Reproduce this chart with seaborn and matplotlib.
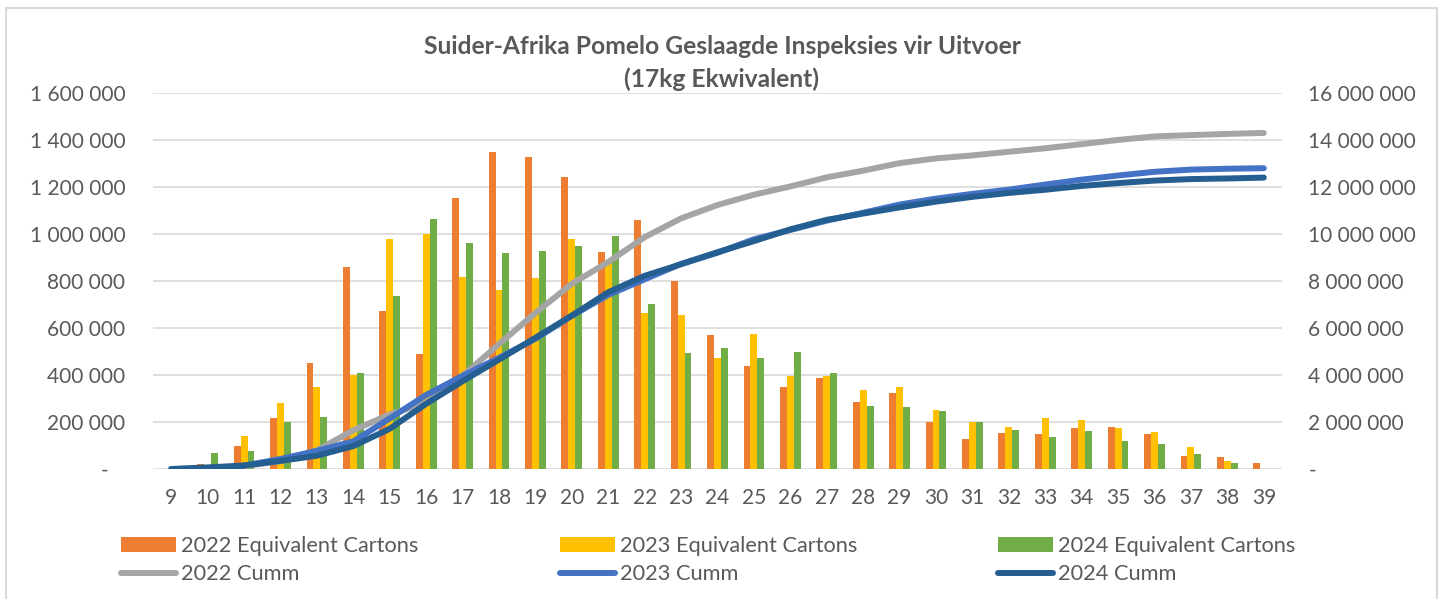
import matplotlib
matplotlib.use('Agg')
import matplotlib.pyplot as plt
import seaborn as sns
import pandas as pd
import numpy as np
from matplotlib.patches import Patch, Rectangle
from matplotlib.lines import Line2D
from matplotlib.ticker import FuncFormatter, MultipleLocator

# Weeks
weeks = list(range(9, 40))

# Weekly passed inspections (17kg equivalent cartons, thousands)
cartons_2022 = [0, 21, 100, 217, 452, 859, 674, 488, 1153, 1350, 1326, 1242, 924, 1059, 800, 569,
                439, 351, 387, 283, 323, 200, 128, 155, 148, 176, 179, 149, 57, 50, 27]
cartons_2023 = [0, 5, 142, 279, 347, 401, 978, 998, 816, 763, 812, 977, 890, 664, 657, 473,
                573, 397, 397, 335, 350, 252, 202, 180, 216, 209, 176, 158, 94, 36, 1]
cartons_2024 = [0, 68, 78, 198, 223, 407, 738, 1063, 960, 919, 928, 947, 991, 701, 492, 513,
                471, 500, 407, 266, 262, 247, 202, 166, 136, 162, 121, 107, 64, 26, 1]

# Cumulative totals (thousands)
cumm_2022 = [0, 21, 121, 338, 790, 1649, 2323, 2811, 3964, 5314, 6640, 7882, 8806, 9865, 10665, 11234,
             11673, 12024, 12411, 12694, 13017, 13217, 13345, 13500, 13648, 13824, 14003, 14152, 14209, 14259, 14300]
cumm_2023 = [0, 5, 147, 426, 773, 1174, 2152, 3150, 3966, 4729, 5541, 6518, 7408, 8072, 8729, 9202,
             9775, 10172, 10569, 10904, 11254, 11506, 11708, 11888, 12104, 12313, 12489, 12647, 12741, 12777, 12800]
cumm_2024 = [0, 68, 146, 344, 567, 974, 1712, 2775, 3735, 4654, 5582, 6529, 7520, 8221, 8713, 9226,
             9697, 10197, 10604, 10870, 11132, 11379, 11581, 11747, 11883, 12045, 12166, 12273, 12337, 12363, 12400]

bar_labels = ['2022 Equivalent Cartons', '2023 Equivalent Cartons', '2024 Equivalent Cartons']
line_labels = ['2022 Cumm', '2023 Cumm', '2024 Cumm']
bar_colors = ['#ED7D31', '#FFC000', '#70AD47']
line_colors = ['#A5A5A5', '#4472C4', '#255E91']

title = 'Suider-Afrika Pomelo Geslaagde Inspeksies vir Uitvoer\n(17kg Ekwivalent)'

TEXT = '#595959'
GRID = '#D9D9D9'

sns.set_theme(style='white')
plt.rcParams['font.family'] = ['Lato', 'DejaVu Sans']

# Long-form table for the bars
df = pd.DataFrame({
    'week': [str(w) for w in weeks] * 3,
    'cartons': np.array(cartons_2022 + cartons_2023 + cartons_2024) * 1000,
    'series': [bar_labels[0]] * len(weeks) + [bar_labels[1]] * len(weeks) + [bar_labels[2]] * len(weeks),
})

fig = plt.figure(figsize=(14.44, 5.99), dpi=100)
ax = fig.add_axes([153 / 1444, 1 - 469 / 599, (1282 - 153) / 1444, (469 - 93) / 599])

sns.barplot(data=df, x='week', y='cartons', hue='series', hue_order=bar_labels,
            palette=bar_colors, width=0.57, gap=0, linewidth=0, saturation=1,
            legend=False, ax=ax)

ax.set_xlim(-0.5, len(weeks) - 0.5)
ax.set_ylim(0, 1_600_000)
ax.yaxis.set_major_locator(MultipleLocator(200_000))
ax.grid(True, axis='y', color=GRID, linewidth=1.2)
ax.set_axisbelow(True)
for s in ax.spines.values():
    s.set_visible(False)
ax.set_xlabel('')
ax.set_ylabel('')


def fmt_left(v, pos):
    if v == 0:
        return '-   '
    return f'{int(v):,}'.replace(',', ' ')


def fmt_right(v, pos):
    if v == 0:
        return '-'
    return f'{int(v):,}'.replace(',', ' ')


ax.yaxis.set_major_formatter(FuncFormatter(fmt_left))
ax.tick_params(axis='y', length=0, pad=20, labelsize=15, labelcolor=TEXT)
ax.tick_params(axis='x', length=0, pad=14, labelsize=15, labelcolor=TEXT)

# Cumulative lines on the secondary axis
ax2 = ax.twinx()
pos = np.arange(len(weeks))
for vals, lab, col in zip([cumm_2022, cumm_2023, cumm_2024], line_labels, line_colors):
    sns.lineplot(x=pos, y=np.array(vals) * 1000, color=col, linewidth=4.3,
                 solid_capstyle='round', ax=ax2, label=lab, legend=False)
ax2.set_ylim(0, 16_000_000)
ax2.yaxis.set_major_locator(MultipleLocator(2_000_000))
ax2.yaxis.set_major_formatter(FuncFormatter(fmt_right))
ax2.tick_params(axis='y', length=0, pad=19, labelsize=15, labelcolor=TEXT)
ax2.grid(False)
for s in ax2.spines.values():
    s.set_visible(False)
ax2.set_ylabel('')
ax2.set_xlim(-0.5, len(weeks) - 0.5)

# Title
fig.text(0.5, 1 - 63 / 599, title, ha='center', va='center', fontsize=17.7,
         fontweight='bold', color=TEXT, linespacing=1.5)

# Legend: one block per year
col_x = [121, 560, 998]
for i in range(3):
    handles = [Patch(facecolor=bar_colors[i], edgecolor='none'),
               Line2D([0], [0], color=line_colors[i], linewidth=4.3, solid_capstyle='round')]
    fig.legend(handles, [bar_labels[i], line_labels[i]], loc='upper left',
               bbox_to_anchor=(col_x[i] / 1444, 1 - 536 / 599), frameon=False,
               fontsize=15.7, labelcolor=TEXT, handlelength=2.5, handleheight=0.65,
               handletextpad=0.25, labelspacing=0.38, borderpad=0, borderaxespad=0)

# Chart-area border
fig.patches.append(Rectangle((6 / 1444, -0.01), (1437 - 6) / 1444, 1 - 8 / 599 + 0.01,
                             transform=fig.transFigure, fill=False, edgecolor=GRID, linewidth=1.5))

fig.savefig('out.png', dpi=100, facecolor='white')
